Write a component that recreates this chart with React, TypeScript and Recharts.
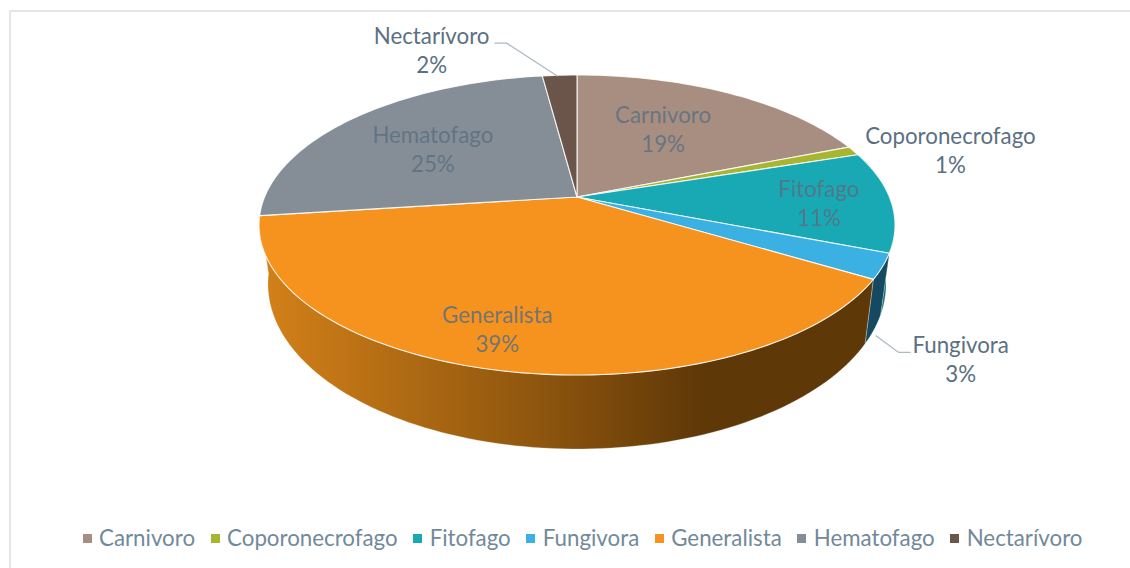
import React from 'react';
import { PieChart, Pie, Legend } from 'recharts';

const categories = ['Carnivoro', 'Coporonecrofago', 'Fitofago', 'Fungivora', 'Generalista', 'Hematofago', 'Nectarívoro'];
const shares = [19, 1, 10.9, 2.7, 39.4, 24.9, 2.1];
const fills = ['#a88e80', '#a7b530', '#18a9b4', '#3bb0e2', '#f6921e', '#858e96', '#6b554a'];
const wallFills = ['#6b5a50', '#6a7320', '#0e6b72', '#14495f', 'url(#genWall)', '#555a60', '#44362f'];
const labelNudges = [
  { dx: -66, dy: 37 },
  { dx: 97, dy: 0 },
  { dx: -72, dy: 3 },
  { dx: 78, dy: 94 },
  { dx: -1, dy: -40 },
  { dx: 78, dy: 32 },
  { dx: -128, dy: -24 },
];
const leaders: Record<string, number[][]> = {
  Nectarívoro: [[-2, 1], [-53, -32], [-65, -32]],
  Fungivora: [[-7, 69], [16, 86], [28, 86]],
};

const rows = categories.map((name, i) => ({ name, value: shares[i], fill: fills[i], wall: wallFills[i], idx: i }));

const FONT = 'Lato, Carlito, sans-serif';
const TILT = 0.1867;
const SQUASH = 0.4635;
const DEG = Math.PI / 180;
const WALL_FROM = 72;
const WALL_TO = 262.8;

// Perspective view of the pie disc: theta is clockwise from 12 o'clock.
function project(theta: number, cx: number, cy: number, R: number, sx = 1, sy = 1) {
  const s = Math.sin(theta * DEG);
  const c = Math.cos(theta * DEG);
  const w = 1 + TILT * c;
  return { x: cx + (sx * R * s) / w, y: cy - (sy * R * SQUASH * c) / w };
}

function arcPoints(a: number, b: number, cx: number, cy: number, R: number, sx = 1, sy = 1) {
  const n = Math.max(2, Math.ceil(Math.abs(b - a) / 1.5));
  const pts = [];
  for (let i = 0; i <= n; i += 1) pts.push(project(a + ((b - a) * i) / n, cx, cy, R, sx, sy));
  return pts;
}

const pathOf = (pts: { x: number; y: number }[]) => pts.map((p, i) => `${i ? 'L' : 'M'}${p.x.toFixed(2)} ${p.y.toFixed(2)}`).join(' ');

function Slice3D(props: any) {
  const { cx, cy, outerRadius: R, startAngle, endAngle, fill, wall } = props;
  const a = 90 - startAngle;
  const b = 90 - endAngle;
  const top = arcPoints(a, b, cx, cy, R);
  const wa = Math.max(a, WALL_FROM);
  const wb = Math.min(b, WALL_TO);
  let wallPath = '';
  if (wb > wa) {
    const upper = arcPoints(wa, wb, cx, cy, R);
    const lower = arcPoints(wb, wa, cx, cy + 56.2, R, 0.972, 1.1);
    wallPath = `${pathOf(upper)} ${pathOf(lower).replace('M', 'L')} Z`;
  }
  return (
    <g>
      {wallPath ? <path d={wallPath} fill={wall} stroke="#ffffff" strokeOpacity={0.35} strokeWidth={0.8} /> : null}
      <path d={`M${cx} ${cy} ${pathOf(top).replace('M', 'L')} Z`} fill={fill} stroke="#ffffff" strokeOpacity={0.85} strokeWidth={1.1} strokeLinejoin="round" />
    </g>
  );
}

function SliceLabel(props: any) {
  const { cx, cy, midAngle, outerRadius: R, name, percent, idx } = props;
  const rim = project(90 - midAngle, cx, cy, R);
  const nudge = labelNudges[idx];
  const x = rim.x + nudge.dx;
  const y = rim.y + nudge.dy;
  const lead = leaders[name];
  const inner = idx === 0 || idx === 2 || idx === 4 || idx === 5;
  return (
    <g>
      {lead ? (
        <polyline
          points={lead.map(([dx, dy]) => `${rim.x + dx},${rim.y + dy}`).join(' ')}
          fill="none"
          stroke="#adb9c1"
          strokeWidth={1.3}
        />
      ) : null}
      <text x={x} y={y} textAnchor="middle" fontFamily={FONT} fontSize={22.3} fill="#5b7082" fillOpacity={inner ? 0.85 : 1}>
        <tspan x={x} dy={-7}>{name}</tspan>
        <tspan x={x} dy={29}>{`${Math.round(percent * 100)}%`}</tspan>
      </text>
    </g>
  );
}

function LegendRow({ payload }: any) {
  return (
    <div style={{ display: 'flex', justifyContent: 'center', alignItems: 'center', fontFamily: FONT, fontSize: 22.3, color: '#72899a', lineHeight: '28px' }}>
      {(payload || []).map((item: any, i: number) => (
        <span key={item.value} style={{ display: 'inline-flex', alignItems: 'center', marginLeft: i ? 15.5 : 0 }}>
          <span style={{ width: 9, height: 9, background: fills[i], marginRight: 7.5, display: 'inline-block' }} />
          {item.value}
        </span>
      ))}
    </div>
  );
}

export default function App() {
  return (
    <div style={{ position: 'absolute', left: 0, top: 0, width: 1130, height: 568, background: '#ffffff', overflow: 'hidden' }}>
      <div style={{ position: 'absolute', left: 9, top: 10, width: 1140, height: 600, border: '2px solid #e2e6ea', boxSizing: 'border-box' }} />
      <PieChart width={1130} height={568} style={{ position: 'absolute', left: 0, top: 0 }} margin={{ top: 0, right: 0, bottom: 0, left: 0 }}>
        <defs>
          <linearGradient id="genWall" x1="0" y1="0" x2="1" y2="0">
            <stop offset="0" stopColor="#d48119" />
            <stop offset="0.45" stopColor="#8f560e" />
            <stop offset="0.72" stopColor="#5f3807" />
            <stop offset="1" stopColor="#5f3807" />
          </linearGradient>
        </defs>
        <Pie
          data={rows}
          dataKey="value"
          nameKey="name"
          cx={577}
          cy={197}
          innerRadius={0}
          outerRadius={312.4}
          startAngle={90}
          endAngle={-270}
          stroke="none"
          isAnimationActive={false}
          labelLine={false}
          label={SliceLabel}
          shape={Slice3D}
        />
        <Legend content={LegendRow} wrapperStyle={{ left: 0, width: 1165, top: 524 }} />
      </PieChart>
    </div>
  );
}
